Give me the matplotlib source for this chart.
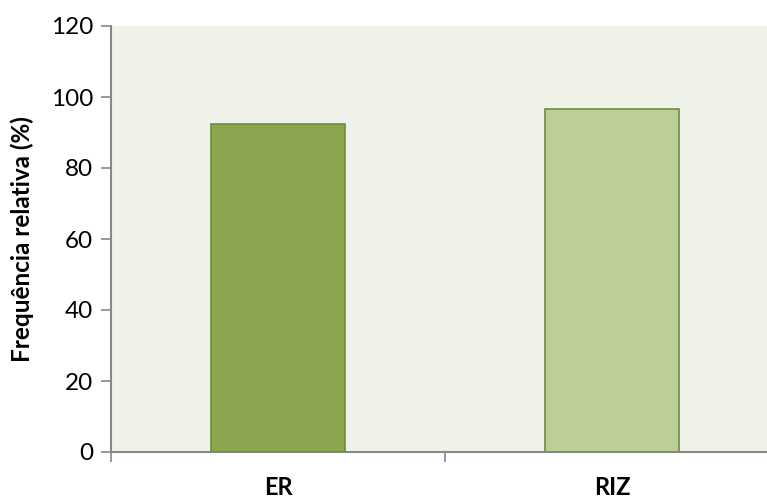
import numpy as np
import matplotlib.pyplot as plt

# Frequência relativa por grupo
grupos = ['ER', 'RIZ']
frequencias = [92.3, 96.5]
cores = ['#8AA64E', '#BBCF96']
bordas = ['#6E8B3D', '#6E8B3D']
yticks = [0, 20, 40, 60, 80, 100, 120]

plt.rcParams['font.family'] = ['Lato', 'DejaVu Sans']

fig = plt.figure(figsize=(7.67, 4.97), dpi=100)
# a área do gráfico passa um pouco da borda direita da figura
ax = fig.add_axes([111 / 767, 45 / 497, 668 / 767, 426 / 497])
ax.set_facecolor('#EFF2E9')

x = np.arange(len(grupos))
ax.bar(x, frequencias, width=0.40, color=cores, edgecolor=bordas, linewidth=1.2, zorder=3)

ax.set_xlim(-0.5, len(grupos) - 0.5)
ax.set_ylim(0, 120)
ax.set_yticks(yticks)
ax.set_yticklabels([str(v) for v in yticks], fontsize=17.5)

# rótulos das categorias no centro, marcas nas divisões
ax.set_xticks(np.arange(-0.5, len(grupos)), minor=False)
ax.set_xticklabels([])
ax.set_xticks(x, minor=True)
ax.set_xticklabels(grupos, minor=True, fontsize=17, fontweight='bold')
ax.tick_params(axis='x', which='minor', length=0, pad=17)
ax.tick_params(axis='x', which='major', length=7, color='#888888', width=1.2)
ax.tick_params(axis='y', length=7, color='#888888', width=1.2, pad=6)

for lado in ['top', 'right']:
    ax.spines[lado].set_visible(False)
for lado in ['left', 'bottom']:
    ax.spines[lado].set_color('#888888')
    ax.spines[lado].set_linewidth(1.5)

ax.set_ylabel('Frequência relativa (%)', fontsize=17.5, fontweight='bold', labelpad=12)

fig.savefig('out.png', dpi=100)
